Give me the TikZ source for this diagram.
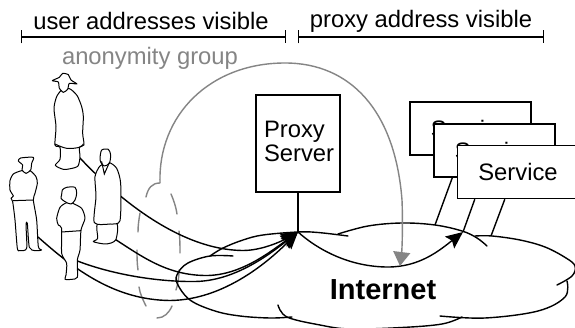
\documentclass[tikz,border=0pt]{standalone}
\usepackage{fontspec}
\setmainfont{Liberation Sans}
\usetikzlibrary{arrows.meta}
\definecolor{anongrey}{HTML}{858585}
\tikzset{
  lab/.style={inner sep=0pt,font=\fontsize{23.8}{24}\selectfont,anchor=base},
  box/.style={draw=black,fill=white,line width=1.4pt,inner sep=0pt,font=\fontsize{23.8}{24}\selectfont},
  bracket/.style={line width=1.4pt,{Bar[width=13pt,line width=1.4pt]}-{Bar[width=13pt,line width=1.4pt]}},
  conn/.style={draw=black,line width=1.4pt},
  arrowed/.style={conn,-{Stealth[length=17pt,width=15pt,inset=3pt]}},
  cloudline/.style={draw=black,line width=1.4pt,line cap=round},
  dashgrey/.style={draw=anongrey,line width=1.4pt,line cap=round},
  greyarrow/.style={draw=anongrey,line width=1.4pt,-{Stealth[length=14pt,width=17pt,inset=0pt]}},
  person/.style={draw=black,fill=white,line width=1pt,line join=round},
  detail/.style={draw=black,line width=1pt,line cap=round},
  zoomA/.style={shift={(0,60)},x=.33333pt,y=-.33333pt},
  zoomB/.style={shift={(0,160)},x=.33333pt,y=-.33333pt}
}
\begin{document}
\begin{tikzpicture}[x=1pt,y=-1pt]
\useasboundingbox (0,0) rectangle (575,328);
\clip (0,0) rectangle (575,328);
\fill[white] (0,0) rectangle (575,328);

% brackets and labels
\coordinate (b1l) at (21,37); \coordinate (b1r) at (286,37);
\coordinate (b2l) at (297.5,37); \coordinate (b2r) at (544,37);
\draw[bracket] (b1l) -- (b1r);
\draw[bracket] (b2l) -- (b2r);
\node[lab] (lu) at (151,29.5) {user addresses visible};
\node[lab] (lp) at (421,28) {proxy address visible};
\node[lab,text=anongrey] (la) at (150,65) {anonymity group};

% anonymity group (dashed grey cloud)
\draw[dashgrey] (146,197) .. controls (148,188) and (152,183) .. (160,183);
\draw[dashgrey] (171,194) .. controls (174,201) and (176,207) .. (177,214);
\draw[dashgrey] (140,213) .. controls (139,219) and (138,225) .. (138,232);
\draw[dashgrey] (179,231) .. controls (180,238) and (180,246) .. (180,253);
\draw[dashgrey] (137,250) .. controls (137,257) and (137,263) .. (138,270);
\draw[dashgrey] (179,270) .. controls (179,277) and (178,284) .. (176,290);
\draw[dashgrey] (139,287) .. controls (140,294) and (143,300) .. (146,306);
\draw[dashgrey] (157,318) .. controls (164,318) and (169,313) .. (172,306);

% Internet cloud
\draw[cloudline] plot[smooth,tension=.6] coordinates {(233,256) (210,256) (188,263) (178,273) (177,283) (190,300) (215,311) (240,316) (270,318) (292,317)};
\draw[cloudline] plot[smooth,tension=.6] coordinates {(210,256) (223,248) (243,240) (263,235) (298,232) (318,232.5) (348,236)};
\draw[cloudline] plot[smooth,tension=.6] coordinates {(338,234) (368,226) (402,223) (435,225) (462,231) (477,238) (487,246)};
\draw[cloudline] plot[smooth,tension=.6] coordinates {(475,236) (492,236) (520,240) (545,247) (566,258) (575,266) (572,276) (557,285)};
\draw[cloudline] plot[smooth,tension=.6] coordinates {(567,281) (565,297) (538,311) (485,318) (440,316)};
\draw[cloudline] plot[smooth,tension=.6] coordinates {(462,317) (442,324) (402,327.5) (350,329) (320,325) (287,317) (278,305)};

% hub and connectors
\coordinate (hub) at (298,232);
\coordinate (svchub) at (463,232);
\coordinate (u1) at (79,157);
\coordinate (u2) at (110,236);
\coordinate (u3) at (70,258);
\coordinate (u4) at (38,237);
\draw[arrowed] (u1) .. controls (110,190) and (175,250) .. (243,250.5) .. controls (262,250.5) and (282,241) .. (hub);
\draw[arrowed] (u2) .. controls (140,255) and (165,275) .. (205,275.5) .. controls (240,276) and (270,252) .. (hub);
\draw[arrowed] (u3) .. controls (110,275) and (160,282) .. (195,281.5) .. controls (235,281) and (270,254) .. (hub);
\draw[arrowed] (u4) .. controls (75,270) and (115,300) .. (170,300.5) .. controls (225,300) and (270,260) .. (hub);
\draw[arrowed] (hub) .. controls (318,250) and (350,267) .. (388,267) .. controls (420,267) and (440,250) .. (svchub);

% anonymity arrow
\coordinate (greyend) at (400,266);
\draw[greyarrow] (160,183) .. controls (158,115) and (210,63) .. (285,63) .. controls (350,63) and (395,110) .. (402,200) .. controls (403,225) and (402,250) .. (greyend);

% proxy
\node[box,minimum width=84pt,minimum height=97pt,text width=68pt,align=left] (proxy) at (298,143.5) {Proxy\\Server\rule[-4pt]{0pt}{0pt}};
\draw[conn] (proxy.south) -- (hub);

% service boxes
\coordinate (c2) at (435,225);
\coordinate (c3) at (463,232);
\coordinate (c4) at (491,236);
\node[box,minimum width=121pt,minimum height=53pt] (s1) at (470.5,128.5) {Service};
\node[box,minimum width=121pt,minimum height=53pt] (s2) at (494.5,150.5) {Service};
\draw[conn] (s2.south west) ++(19,0) -- (c2);
\node[box,minimum width=121pt,minimum height=53pt] (s3) at (518,172) {Service};
\draw[conn] (s3.south west) ++(18,0) -- (c3);
\draw[conn] (s3.south west) ++(48,0) -- (c4);

% Internet label
\node[lab,font=\fontsize{29}{30}\selectfont\bfseries] (net) at (383,300) {Internet};

% tall man
\begin{scope}[zoomA]
\draw[person] plot[smooth cycle,tension=.45] coordinates {(185,90) (170,110) (162,145) (168,200) (165,255) (180,262) (180,298) (166,316) (190,328) (212,326) (234,318) (240,290) (238,262) (252,255) (248,220) (250,170) (245,140) (232,108) (215,90) (203,85)};
\draw[detail] plot[smooth,tension=.6] coordinates {(165,252) (200,265) (238,262) (250,252)};
\draw[person] plot[smooth cycle,tension=.35] coordinates {(157,62) (178,52) (188,40) (205,44) (213,60) (231,72) (208,70) (203,88) (190,97) (178,85) (175,66)};
\end{scope}
\begin{scope}[zoomB]
% doctor
\draw[person] plot[smooth cycle,tension=.45] coordinates {(293,190) (293,235) (280,245) (318,252) (347,240) (350,190)};
\draw[person] plot[smooth cycle,tension=.4] coordinates {(300,18) (285,50) (288,110) (283,188) (330,192) (360,182) (362,70) (350,25) (328,8)};
\draw[person] plot[smooth cycle,tension=.45] coordinates {(300,-5) (305,-30) (325,-32) (332,-15) (328,10) (313,18) (303,8)};
\draw[detail] (305,5) -- (313,42) -- (328,8);
% left man
\draw[person] plot[smooth cycle,tension=.4] coordinates {(65,32) (40,42) (30,62) (30,90) (40,108) (33,115) (38,125) (45,180) (52,265) (60,272) (80,265) (78,195) (82,190) (88,262) (105,272) (125,270) (115,260) (110,180) (100,120) (105,100) (112,70) (108,50) (90,32)};
\draw[person] plot[smooth cycle,tension=.4] coordinates {(55,3) (62,-6) (100,-8) (95,10) (92,30) (78,40) (66,30) (68,15)};
\draw[detail] (40,122) -- (100,120);
% woman
\draw[person] plot[smooth cycle,tension=.4] coordinates {(200,128) (180,142) (170,175) (175,195) (185,205) (185,280) (200,310) (198,345) (195,358) (215,358) (232,352) (232,300) (240,270) (243,210) (255,175) (245,145) (218,130)};
\draw[detail] (185,216) -- (243,212);
\draw[person] plot[smooth cycle,tension=.5] coordinates {(185,105) (187,90) (200,82) (225,82) (230,100) (225,120) (213,132) (195,125) (183,115)};
\end{scope}
\end{tikzpicture}
\end{document}
